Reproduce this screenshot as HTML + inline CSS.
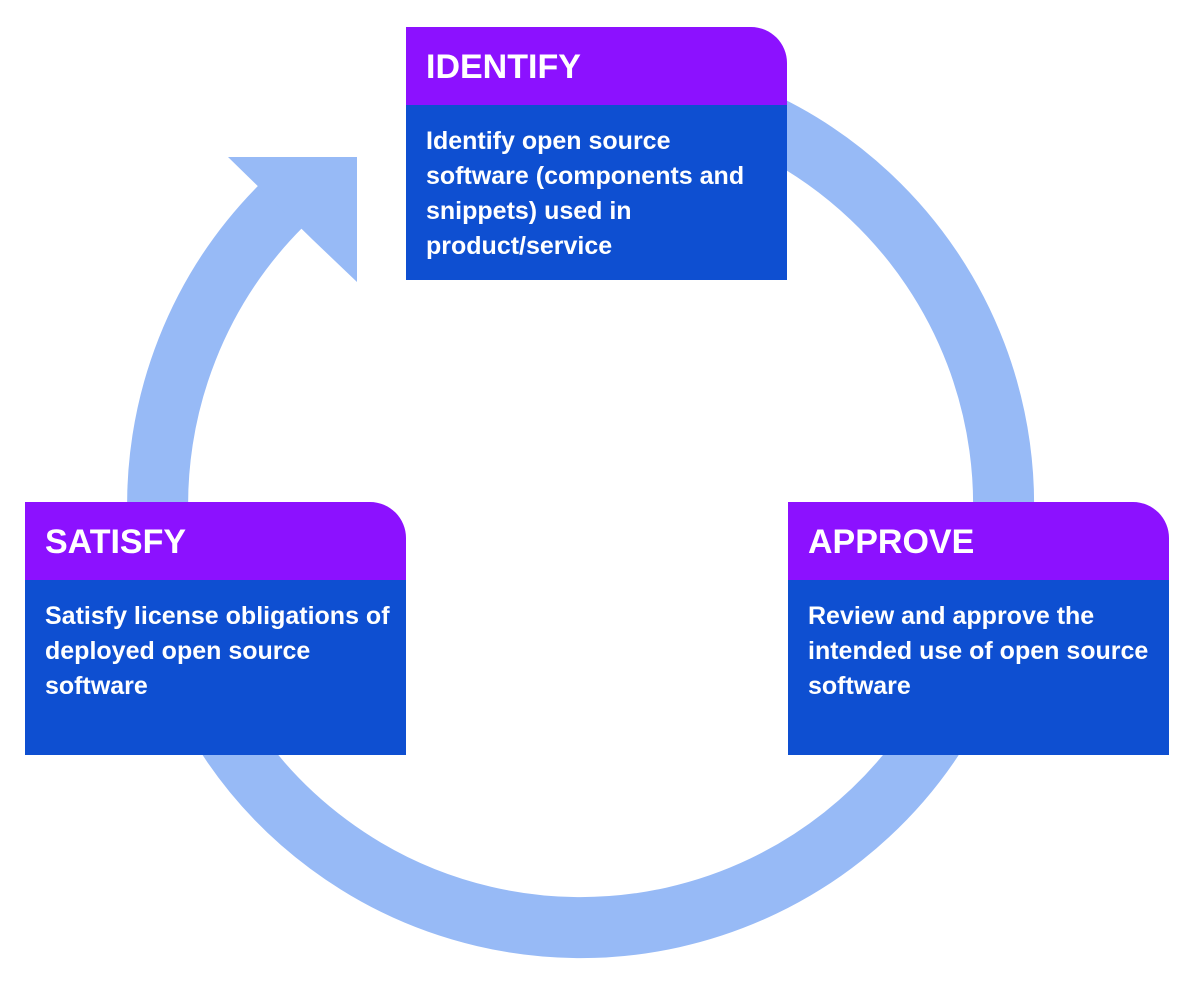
<!DOCTYPE html>
<html><head><style>
html,body{margin:0;padding:0;background:#fff;width:1200px;height:987px;overflow:hidden}
.box{position:absolute;width:381px;font-family:"Liberation Sans",sans-serif;font-weight:bold;color:#fff}
.h{background:#8C11FF;height:78px;border-top-right-radius:36px;box-sizing:border-box;padding:18px 0 0 20px;font-size:34px;line-height:44px}
.b{background:#0E4FD1;height:175px;box-sizing:border-box;padding:19px 10px 0 20px;font-size:25px;line-height:35px}
</style></head><body>
<svg width="1200" height="987" style="position:absolute;left:0;top:0">
<path d="M281 206 A423 423 0 1 0 725 107" fill="none" stroke="#97BAF6" stroke-width="61"/>
<polygon points="228,157 357,157 357,282 313,240 269,197" fill="#97BAF6"/>
</svg>
<div class="box" style="left:406px;top:27px"><div class="h">IDENTIFY</div><div class="b">Identify open source software (components and snippets) used in product/service</div></div>
<div class="box" style="left:25px;top:502px"><div class="h">SATISFY</div><div class="b">Satisfy license obligations of deployed open source software</div></div>
<div class="box" style="left:788px;top:502px"><div class="h">APPROVE</div><div class="b">Review and approve the intended use of open source software</div></div>
</body></html>
